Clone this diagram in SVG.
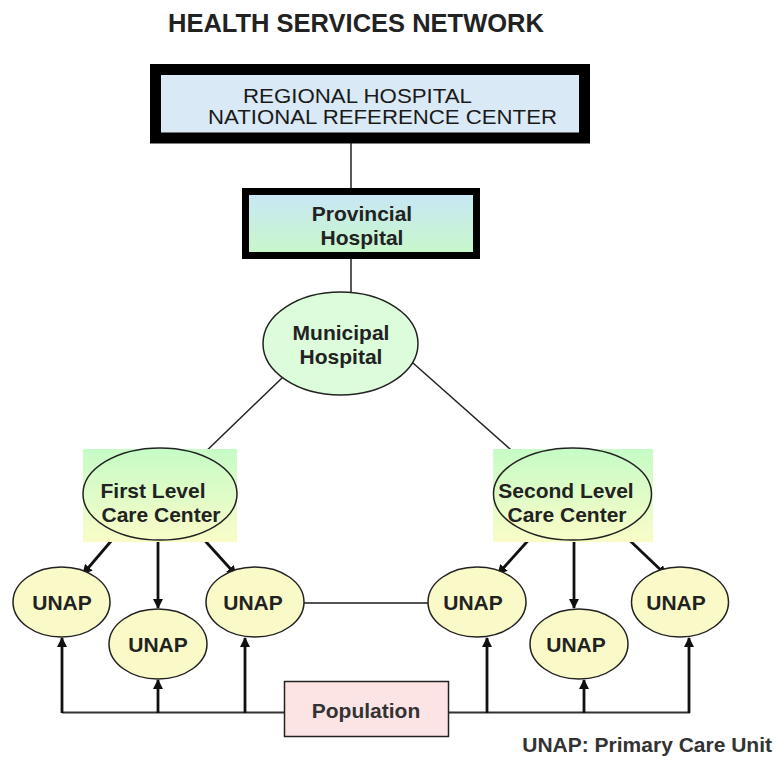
<svg xmlns="http://www.w3.org/2000/svg" width="776" height="760" viewBox="0 0 776 760">
<style>
.t{font-family:"Liberation Sans",Arial,sans-serif;font-weight:bold;font-size:21px;fill:#222;text-anchor:middle}
.ln{stroke:#222;stroke-width:1.5;fill:none}
.ar{stroke:#111;stroke-width:2.8;fill:none}
.unap{fill:#fafac8;stroke:#222;stroke-width:1.5}
.reg{font-family:"Liberation Sans",Arial,sans-serif;font-size:20px;fill:#1a1a1a}
</style>
<defs>
<linearGradient id="gProv" x1="0" y1="0" x2="0" y2="1">
<stop offset="0" stop-color="#c8e6f8"/>
<stop offset="1" stop-color="#c8f8c8"/>
</linearGradient>
<linearGradient id="gCare" x1="0" y1="0" x2="0" y2="1">
<stop offset="0" stop-color="#c6fcc6"/>
<stop offset="1" stop-color="#fafcc8"/>
</linearGradient>
<marker id="ah" viewBox="0 0 10 10" refX="9" refY="5" markerWidth="10" markerHeight="10" markerUnits="userSpaceOnUse" orient="auto">
<path d="M0,0 L10,5 L0,10 z" fill="#111"/>
</marker>
</defs>
<rect width="776" height="760" fill="#fff"/>
<text x="168" y="32" style="font-family:'Liberation Sans',Arial,sans-serif;font-weight:bold;font-size:25.5px;fill:#222">HEALTH SERVICES NETWORK</text>

<g id="connectors">
<line class="ln" x1="351" y1="143" x2="351" y2="188"/>
<line class="ln" x1="351" y1="259" x2="351" y2="292"/>
<line class="ln" x1="282" y1="378" x2="197" y2="460"/>
<line class="ln" x1="413" y1="363" x2="520" y2="458"/>
<line x1="304" y1="603" x2="429" y2="603" stroke="#555" stroke-width="2"/>
<line class="ar" x1="118" y1="533" x2="83" y2="574" marker-end="url(#ah)"/>
<line class="ar" x1="158" y1="541" x2="158" y2="608" marker-end="url(#ah)"/>
<line class="ar" x1="198" y1="533" x2="236" y2="575" marker-end="url(#ah)"/>
<line class="ar" x1="534" y1="534" x2="498" y2="574" marker-end="url(#ah)"/>
<line class="ar" x1="574" y1="541" x2="574" y2="608" marker-end="url(#ah)"/>
<line class="ar" x1="623" y1="534" x2="666" y2="575" marker-end="url(#ah)"/>
<line x1="62" y1="712.5" x2="284" y2="712.5" stroke="#333" stroke-width="2"/>
<line x1="449" y1="712.5" x2="690" y2="712.5" stroke="#333" stroke-width="2"/>
<line class="ar" x1="62" y1="713" x2="62" y2="638" marker-end="url(#ah)"/>
<line class="ar" x1="158" y1="713" x2="158" y2="680" marker-end="url(#ah)"/>
<line class="ar" x1="245" y1="713" x2="245" y2="638" marker-end="url(#ah)"/>
<line class="ar" x1="487" y1="713" x2="487" y2="638" marker-end="url(#ah)"/>
<line class="ar" x1="584" y1="713" x2="584" y2="680" marker-end="url(#ah)"/>
<line class="ar" x1="689" y1="713" x2="689" y2="638" marker-end="url(#ah)"/>
</g>

<g id="regional">
<rect x="155.5" y="69.5" width="429" height="68.5" fill="#d9e9f6" stroke="#000" stroke-width="11"/>
<text class="reg" x="243" y="103" textLength="229" lengthAdjust="spacingAndGlyphs">REGIONAL HOSPITAL</text>
<text class="reg" x="208" y="124" textLength="349" lengthAdjust="spacingAndGlyphs">NATIONAL REFERENCE CENTER</text>
</g>

<g id="provincial">
<rect x="245.5" y="191.5" width="231" height="64" fill="url(#gProv)" stroke="#000" stroke-width="7"/>
<text class="t" x="362" y="221">Provincial</text>
<text class="t" x="362" y="245">Hospital</text>
</g>

<g id="municipal">
<ellipse cx="340.5" cy="343.5" rx="77.5" ry="51.5" fill="#dcfcdc" stroke="#222" stroke-width="1.5"/>
<text class="t" x="341" y="340">Municipal</text>
<text class="t" x="341" y="364">Hospital</text>
</g>

<g id="first-level">
<rect x="83" y="449" width="154" height="93" fill="url(#gCare)"/>
<ellipse cx="160" cy="494" rx="77" ry="46" fill="none" stroke="#222" stroke-width="1.5"/>
<text class="t" x="153" y="498">First Level</text>
<text class="t" x="161" y="522">Care Center</text>
</g>

<g id="second-level">
<rect x="493" y="449" width="160" height="93" fill="url(#gCare)"/>
<ellipse cx="572.5" cy="494" rx="79" ry="46" fill="none" stroke="#222" stroke-width="1.5"/>
<text class="t" x="566" y="498">Second Level</text>
<text class="t" x="567" y="522">Care Center</text>
</g>

<g id="unap1"><ellipse class="unap" cx="61.5" cy="602" rx="48.5" ry="35"/><text class="t" x="62" y="609.5">UNAP</text></g>
<g id="unap2"><ellipse class="unap" cx="158" cy="644" rx="49" ry="35"/><text class="t" x="158" y="651.5">UNAP</text></g>
<g id="unap3"><ellipse class="unap" cx="255" cy="602" rx="49" ry="35"/><text class="t" x="253" y="609.5">UNAP</text></g>
<g id="unap4"><ellipse class="unap" cx="477" cy="602" rx="49" ry="35"/><text class="t" x="473" y="609.5">UNAP</text></g>
<g id="unap5"><ellipse class="unap" cx="579" cy="644" rx="49" ry="35"/><text class="t" x="576" y="651.5">UNAP</text></g>
<g id="unap6"><ellipse class="unap" cx="680" cy="602" rx="48.5" ry="35"/><text class="t" x="676" y="609.5">UNAP</text></g>

<g id="population">
<rect x="284.5" y="681.5" width="164" height="55" fill="#fde4e4" stroke="#222" stroke-width="1.5"/>
<text class="t" x="366" y="718" style="fill:#333">Population</text>
</g>

<text x="772" y="752" style="font-family:'Liberation Sans',Arial,sans-serif;font-weight:bold;font-size:21px;fill:#333;text-anchor:end">UNAP: Primary Care Unit</text>
</svg>
